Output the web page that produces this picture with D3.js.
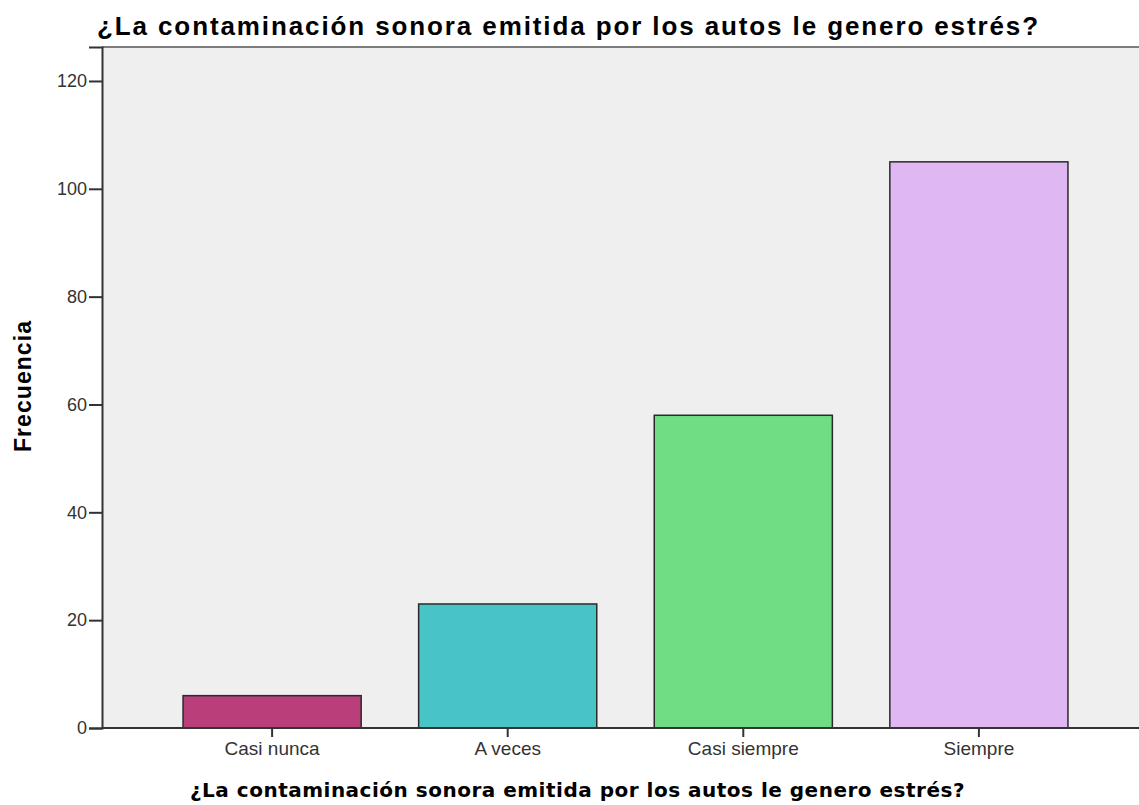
<!DOCTYPE html>
<html>
<head>
<meta charset="utf-8">
<script src="https://cdn.jsdelivr.net/npm/d3@7"></script>
<style>
  body { margin: 0; background: #fff; }
  svg { display: block; }
</style>
</head>
<body>
<svg id="chart" width="1139" height="805"></svg>
<script>
const categories = ['Casi nunca', 'A veces', 'Casi siempre', 'Siempre']
const values = [6, 23, 58, 105]
const colors = ['#b93e7a', '#48c3c6', '#70dd85', '#dfb8f3']
const yTicks = [0, 20, 40, 60, 80, 100, 120]
const titleText = '¿La contaminación sonora emitida por los autos le genero estrés?'
const yLabel = 'Frecuencia'

let svg = d3.select('#chart')
let plotLeft = 102, plotTop = 47, plotBottom = 728

let x = d3.scaleBand()
        .domain(categories)
        .range([plotLeft, 1149])
        .paddingInner(0.244)
        .paddingOuter(0.344)

let y = d3.scaleLinear()
        .domain([0, 126.3])
        .range([plotBottom, plotTop])

// stretch text out to a given width with letter spacing
let fitText = (sel, width) => {
  let w = sel.node().getComputedTextLength()
  let n = sel.text().length
  sel.attr('letter-spacing', ((width - w) / n) + 'px')
}

// plot background
svg.append('rect')
    .attr('x', plotLeft)
    .attr('y', plotTop)
    .attr('width', 1139 - plotLeft + 5)
    .attr('height', plotBottom - plotTop)
    .attr('fill', '#efefef')

svg.append('line')
    .attr('x1', plotLeft).attr('x2', 1140)
    .attr('y1', plotTop).attr('y2', plotTop)
    .attr('stroke', '#555').attr('stroke-width', 1.5)

svg.selectAll('rect.bar')
    .data(values)
    .enter()
    .append('rect')
    .attr('class', 'bar')
    .attr('x', (d, i) => x(categories[i]))
    .attr('width', x.bandwidth())
    .attr('y', d => y(d))
    .attr('height', d => y(0) - y(d))
    .attr('fill', (d, i) => colors[i])
    .attr('stroke', '#2a2a2a')
    .attr('stroke-width', 1.5)

// y axis
let yAxis = svg.append('g')
    .attr('transform', 'translate(' + plotLeft + ',0)')
    .call(d3.axisLeft(y).tickValues(yTicks).tickSize(13).tickPadding(2))
yAxis.select('.domain').attr('stroke', '#333').attr('stroke-width', 2)
yAxis.selectAll('.tick line').attr('stroke', '#333').attr('stroke-width', 2)
yAxis.selectAll('.tick text')
    .attr('font-family', 'Liberation Sans, Arial, sans-serif')
    .attr('font-size', '18px')
    .attr('fill', '#333')

// x axis
let xAxis = svg.append('g')
    .attr('transform', 'translate(0,' + plotBottom + ')')
    .call(d3.axisBottom(x).tickSize(9).tickPadding(5).tickSizeOuter(0))
xAxis.select('.domain').attr('stroke', '#333').attr('stroke-width', 2)
    .attr('d', 'M' + plotLeft + ',0H1140')
xAxis.selectAll('.tick line').attr('stroke', '#333').attr('stroke-width', 2)
xAxis.selectAll('.tick text')
    .attr('font-family', 'Liberation Sans, Arial, sans-serif')
    .attr('font-size', '19px')
    .attr('fill', '#333')

// titles
let title = svg.append('text')
    .attr('x', 97)
    .attr('y', 35)
    .attr('font-family', 'Liberation Sans, Arial, sans-serif')
    .attr('font-weight', 'bold')
    .attr('font-size', '26px')
    .attr('fill', '#000')
    .text(titleText)
fitText(title, 943)

let xTitle = svg.append('text')
    .attr('x', 190)
    .attr('y', 797)
    .attr('font-family', 'DejaVu Sans, Verdana, sans-serif')
    .attr('font-weight', 'bold')
    .attr('font-size', '20px')
    .attr('fill', '#000')
    .text(titleText)
fitText(xTitle, 775)

let yTitle = svg.append('text')
    .attr('transform', 'translate(31,452) rotate(-90)')
    .attr('font-family', 'Liberation Sans, Arial, sans-serif')
    .attr('font-weight', 'bold')
    .attr('font-size', '23px')
    .attr('fill', '#000')
    .text(yLabel)
fitText(yTitle, 132)
</script>
</body>
</html>
